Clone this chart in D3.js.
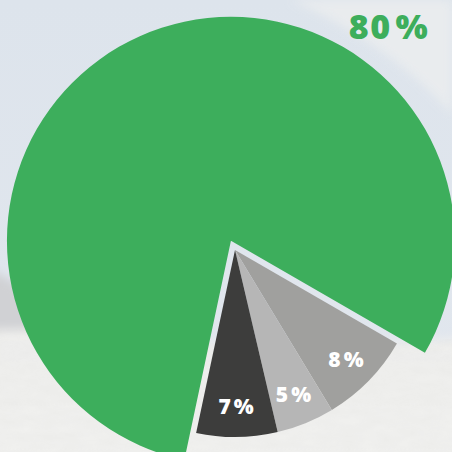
<!DOCTYPE html>
<html>
<head>
<meta charset="utf-8">
<script src="https://cdn.jsdelivr.net/npm/d3@7"></script>
<style>
  html, body { margin: 0; padding: 0; background: #dfe5ec; }
  svg { display: block; }
</style>
</head>
<body>
<svg id="chart" width="452" height="452"></svg>
<script>
// Share of each group, in percent
const labels = ["80%", "8%", "5%", "7%"];
const values = [80, 8, 5, 7];
const colors = ["#3dae5c", "#a0a09e", "#b6b6b6", "#3d3d3c"];

const W = 452, H = 452;
const cx = 235, cy = 250;
const rMain = 224, rSmall = 187, explode = 10;

const svg = d3.select("#chart");
const defs = svg.append("defs");

// Backdrop: pale blue sky fading into a soft white textured ground
const sky = defs.append("linearGradient").attr("id", "sky")
  .attr("x1", 0).attr("y1", 0).attr("x2", 0).attr("y2", 1);
sky.append("stop").attr("offset", 0).attr("stop-color", "#dde4ec");
sky.append("stop").attr("offset", 1).attr("stop-color", "#e2e7ee");

const snow = defs.append("linearGradient").attr("id", "snow")
  .attr("x1", 0).attr("y1", 0).attr("x2", 0).attr("y2", 1);
snow.append("stop").attr("offset", 0).attr("stop-color", "#efefed");
snow.append("stop").attr("offset", 1).attr("stop-color", "#f2f2f0");

const grain = defs.append("filter").attr("id", "grain")
  .attr("x", 0).attr("y", 0).attr("width", 1).attr("height", 1);
grain.append("feTurbulence").attr("type", "fractalNoise")
  .attr("baseFrequency", "0.05 0.12").attr("numOctaves", 3).attr("seed", 4).attr("result", "n");
grain.append("feColorMatrix").attr("in", "n").attr("type", "matrix")
  .attr("values", "0 0 0 0 0.5  0 0 0 0 0.5  0 0 0 0 0.5  0 0 0 0.09 0").attr("result", "a");
grain.append("feComposite").attr("in", "a").attr("in2", "SourceGraphic").attr("operator", "in");

const soft = defs.append("filter").attr("id", "soft")
  .attr("x", -0.2).attr("y", -0.2).attr("width", 1.4).attr("height", 1.4);
soft.append("feGaussianBlur").attr("stdDeviation", 5);

const bg = svg.append("g");
bg.append("rect").attr("width", W).attr("height", H).attr("fill", "url(#sky)");
// light swoosh at the upper right
bg.append("path")
  .attr("d", "M290,0 C350,25 415,70 452,115 L452,0 Z")
  .attr("fill", "#eceeef").attr("opacity", 0.8).attr("filter", "url(#soft)");
// grey ridge on the left
bg.append("path")
  .attr("d", "M-10,270 C20,282 45,305 70,335 L-10,345 Z")
  .attr("fill", "#d0d1d4").attr("filter", "url(#soft)");
// white ground
const ground = "M-10,330 C80,326 160,342 260,346 C340,349 400,342 462,338 L462,462 L-10,462 Z";
bg.append("path").attr("d", ground).attr("fill", "url(#snow)").attr("filter", "url(#soft)");
bg.append("path").attr("d", ground).attr("fill", "#fff").attr("filter", "url(#grain)");

// Pie layout: largest share first, starting left of twelve o'clock
const pie = d3.pie().sort(null).value(d => d)
  .startAngle(-168 * Math.PI / 180).endAngle(192 * Math.PI / 180);
const arcs = pie(values);

const arcMain = d3.arc().innerRadius(0).outerRadius(rMain);
const arcSmall = d3.arc().innerRadius(0).outerRadius(rSmall);
const labelArc = d3.arc().innerRadius(156).outerRadius(156);

const g = svg.append("g").attr("transform", `translate(${cx},${cy})`);

g.selectAll("path.slice")
  .data(arcs)
  .join("path")
  .attr("class", "slice")
  .attr("fill", (d, i) => colors[i])
  .attr("transform", (d, i) => {
    if (i !== 0) return null;
    const mid = (d.startAngle + d.endAngle) / 2;
    return `translate(${explode * Math.sin(mid)},${-explode * Math.cos(mid)})`;
  })
  .attr("d", (d, i) => i === 0 ? arcMain(d) : arcSmall(d));

// Split a label into number and percent sign so the sign can sit a little apart
function percentText(sel, gap) {
  sel.each(function (t) {
    const s = d3.select(this);
    s.append("tspan").text(t.slice(0, -1));
    s.append("tspan").attr("dx", gap).text("%");
  });
}

// Values inside the small slices
g.selectAll("text.inner")
  .data(arcs.slice(1))
  .join("text")
  .attr("class", "inner")
  .attr("transform", d => `translate(${labelArc.centroid(d)})`)
  .attr("text-anchor", "middle")
  .attr("dominant-baseline", "central")
  .attr("fill", "#ffffff")
  .attr("font-family", "'Open Sans', sans-serif")
  .attr("font-weight", 800)
  .attr("font-size", 21)
  .attr("letter-spacing", 1)
  .datum((d, i) => labels[i + 1])
  .call(percentText, 2);

// Value of the large slice, set above its outer edge
const outerLabel = d3.arc().innerRadius(272).outerRadius(272);
const a0 = 34.5 * Math.PI / 180;
const p = outerLabel.centroid({ startAngle: a0, endAngle: a0 });
g.append("text")
  .attr("x", p[0]).attr("y", p[1])
  .attr("text-anchor", "middle")
  .attr("dominant-baseline", "central")
  .attr("fill", colors[0])
  .attr("font-family", "'Open Sans', sans-serif")
  .attr("font-weight", 800)
  .attr("font-size", 34)
  .attr("letter-spacing", 1.5)
  .datum(labels[0])
  .call(percentText, 4);
</script>
</body>
</html>
